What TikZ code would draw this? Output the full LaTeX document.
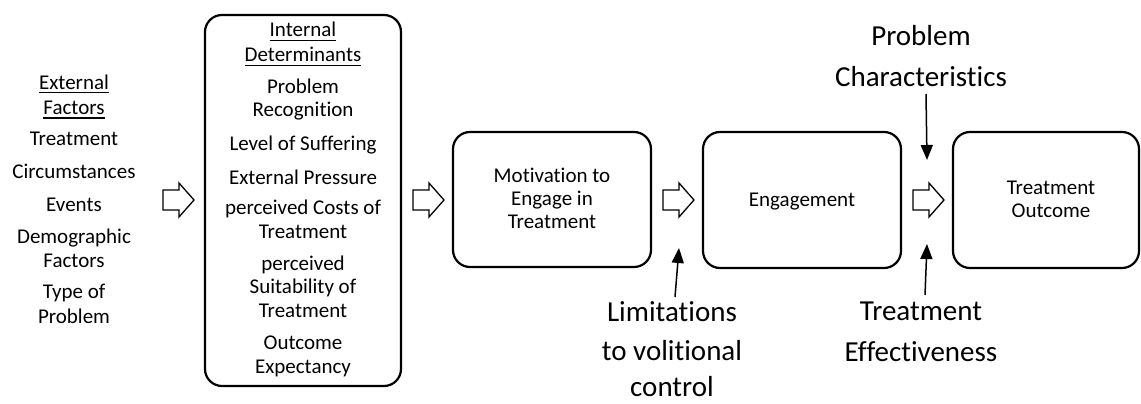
\documentclass[tikz,border=0pt]{standalone}
\usepackage{fontspec}
\setmainfont{Carlito}[Ligatures=NoCommon]
\usetikzlibrary{arrows.meta}
\newcommand\myul[1]{\setbox0\hbox{#1}\rlap{\rule[-4.5pt]{\wd0}{1.7pt}}\box0}
\tikzset{
  body/.style={anchor=base, inner sep=0pt, font=\fontsize{21}{24}\selectfont},
  big/.style={anchor=base, inner sep=0pt, font=\fontsize{29}{35}\selectfont},
  stagebox/.style={draw, line width=2.2pt, rounded corners=17pt},
  thinarrow/.style={line width=1.5pt, -{Triangle[length=15pt,width=12pt]}},
  blockarrow/.pic={\draw[line width=1.3pt, line join=miter]
     (0,-10) -- (16,-10) -- (16,-17) -- (31,0) -- (16,17) -- (16,10) -- (0,10) -- cycle;}
}
\begin{document}
\begin{tikzpicture}[x=1pt,y=-1pt]
\useasboundingbox (0,0) rectangle (1141,404);
% boxes
\draw[stagebox] (205,15) rectangle (401,386);
\node[stagebox, minimum width=198pt, minimum height=135pt, inner sep=0pt] (mot) at (552,199.5) {};
\node[stagebox, minimum width=198pt, minimum height=136pt, inner sep=0pt] (eng) at (802,200) {};
\node[stagebox, minimum width=186pt, minimum height=136pt, inner sep=0pt] (out) at (1046,200) {};
% external factors
\node[body] (e1) at (74,89) {\myul{External}};
\node[body] (e2) at (74,114) {\myul{Factors}};
\node[body] (e3) at (74,145) {Treatment};
\node[body] (e4) at (74,178) {Circumstances};
\node[body] (e5) at (74,211) {Events};
\node[body] (e6) at (74,243) {Demographic};
\node[body] (e7) at (74,267) {Factors};
\node[body] (e8) at (74,298) {Type of};
\node[body] (e9) at (74,323) {Problem};
% internal determinants
\node[body] (i1) at (303,37) {\myul{Internal}};
\node[body] (i2) at (303,62) {\myul{Determinants}};
\node[body] (i3) at (303,94) {Problem};
\node[body] (i4) at (303,117) {Recognition};
\node[body] (i5) at (303,150) {Level of Suffering};
\node[body] (i6) at (303,184) {External Pressure};
\node[body] (i7) at (303,214) {perceived Costs of};
\node[body] (i8) at (303,238) {Treatment};
\node[body] (i9) at (303,270) {perceived};
\node[body] (i10) at (303,293) {Suitability of};
\node[body] (i11) at (303,317) {Treatment};
\node[body] (i12) at (303,349) {Outcome};
\node[body] (i13) at (303,373) {Expectancy};
% stage texts
\node[body] (m1) at (552,182) {Motivation to};
\node[body] (m2) at (552,205) {Engage in};
\node[body] (m3) at (552,228) {Treatment};
\node[body] (g1) at (802,206) {Engagement};
\node[body] (o1) at (1051,194) {Treatment};
\node[body] (o2) at (1051,217) {Outcome};
% big labels
\node[big] (p1) at (921,46) {Problem};
\node[big] (p2) at (921,87) {Characteristics};
\node[big] (t1) at (921,320) {Treatment};
\node[big] (t2) at (921,361) {Effectiveness};
\node[big] (l1) at (672,321) {Limitations};
\node[big] (l2) at (672,360) {to volitional};
\node[big] (l3) at (672,396) {control};
% block arrows
\pic at (163,200) {blockarrow};
\pic at (413,200) {blockarrow};
\pic at (663,200) {blockarrow};
\pic at (913,200) {blockarrow};
% thin arrows
\coordinate (ltail) at (675,297);
\coordinate (ltip) at (679,248);
\coordinate (ptail) at (926,94);
\coordinate (ptip) at (927,160);
\coordinate (ttail) at (925,295);
\coordinate (ttip) at (927,244);
\draw[thinarrow] (ltail) -- (ltip);
\draw[thinarrow] (ptail) -- (ptip);
\draw[thinarrow] (ttail) -- (ttip);
\end{tikzpicture}
\end{document}
